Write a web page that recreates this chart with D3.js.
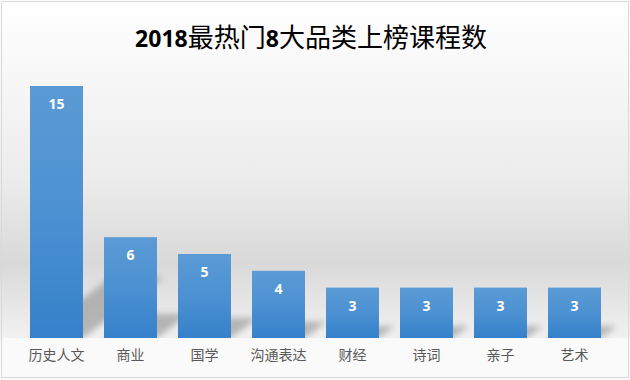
<!DOCTYPE html>
<html><head><meta charset="utf-8">
<script src="https://cdn.jsdelivr.net/npm/d3@7/dist/d3.min.js"></script>
<style>html,body{margin:0;padding:0;background:#fff;}svg{display:block;}</style>
</head><body>
<svg id="chart" width="630" height="380"></svg>
<script>
const titleParts = ["2018","最热门","8","大品类上榜课程数"];
const categories = ["历史人文","商业","国学","沟通表达","财经","诗词","亲子","艺术"];
const values = [15, 6, 5, 4, 3, 3, 3, 3];

const W = 630, H = 380;
const svg = d3.select("#chart");
const defs = svg.append("defs");

const bg = defs.append("linearGradient").attr("id","bg").attr("x1",0).attr("y1",0).attr("x2",0).attr("y2",1);
[[0,"#ffffff"],[0.21,"#f7f7f7"],[0.47,"#ececec"],[0.69,"#d9d9d9"],[0.89,"#f1f1f1"],[0.895,"#fafafa"],[1,"#fcfcfc"]]
  .forEach(([o,c]) => bg.append("stop").attr("offset",o).attr("stop-color",c));
svg.append("rect").attr("x",0).attr("y",0).attr("width",W).attr("height",H).attr("fill","url(#bg)");

const barG = defs.append("linearGradient").attr("id","barG").attr("x1",0).attr("y1",0).attr("x2",0).attr("y2",1);
barG.append("stop").attr("offset",0).attr("stop-color","#5b9bd5");
barG.append("stop").attr("offset",0.5).attr("stop-color","#4c91d2");
barG.append("stop").attr("offset",1).attr("stop-color","#3581ca");

defs.append("filter").attr("id","blur").attr("x","-50%").attr("y","-50%").attr("width","200%").attr("height","200%")
  .append("feGaussianBlur").attr("stdDeviation",3);

const x = d3.scaleBand().domain(categories).range([19.5, 611.5]).paddingInner(0.284).paddingOuter(0.142);
const y = d3.scaleLinear().domain([0, 15]).range([338, 86]);

const data = categories.map((c,i) => ({c, v: values[i]}));

svg.append("g").attr("filter","url(#blur)").selectAll("polygon").data(data).join("polygon")
  .attr("fill","#8f8f8f").attr("opacity",0.6)
  .attr("points", d => {
    const x0 = x(d.c), x1 = x0 + x.bandwidth(), yb = y(0), h = y(0) - y(d.v);
    const dx = 0.32*h, dy = 0.24*h;
    return [[x0,yb],[x1,yb],[x1+dx,yb-dy],[x0+dx,yb-dy]].map(p=>p.join(",")).join(" ");
  });
svg.append("rect").attr("x",2).attr("y",y(0)).attr("width",W-4).attr("height",H-y(0)-3).attr("fill","#fafafa");

svg.append("g").selectAll("rect").data(data).join("rect")
  .attr("x", d => x(d.c)).attr("y", d => y(d.v))
  .attr("width", x.bandwidth()).attr("height", d => y(0) - y(d.v))
  .attr("fill","url(#barG)");

svg.append("g").selectAll("text").data(data).join("text")
  .attr("x", d => x(d.c) + x.bandwidth()/2).attr("y", d => y(d.v) + 23)
  .attr("text-anchor","middle").attr("fill","#ffffff")
  .attr("font-family","'Open Sans','Liberation Sans',sans-serif").attr("font-weight","bold").attr("font-size",14)
  .text(d => d.v);

const xAxis = svg.append("g").attr("transform",`translate(0,${y(0)})`)
  .call(d3.axisBottom(x).tickSize(0).tickPadding(12));
xAxis.select(".domain").remove();
xAxis.selectAll("text").attr("fill","#595959").attr("font-size",14)
  .attr("font-family","'Noto Sans CJK SC',sans-serif");

const t = svg.append("text").attr("x",311).attr("y",47).attr("text-anchor","middle")
  .attr("font-family","'Noto Sans CJK SC',sans-serif").attr("font-size",26).attr("fill","#000");
titleParts.forEach((p,i) => {
  const isNum = /^\d+$/.test(p);
  t.append("tspan").text(p)
    .attr("font-family", isNum ? "'Open Sans',sans-serif" : "'Noto Sans CJK SC',sans-serif")
    .attr("font-weight", isNum ? "bold" : "normal")
    .attr("font-size", isNum ? 23 : 26);
});

svg.append("rect").attr("x",1.5).attr("y",1.5).attr("width",627).attr("height",376)
  .attr("fill","none").attr("stroke","#d9d9d9");
</script>
</body></html>
